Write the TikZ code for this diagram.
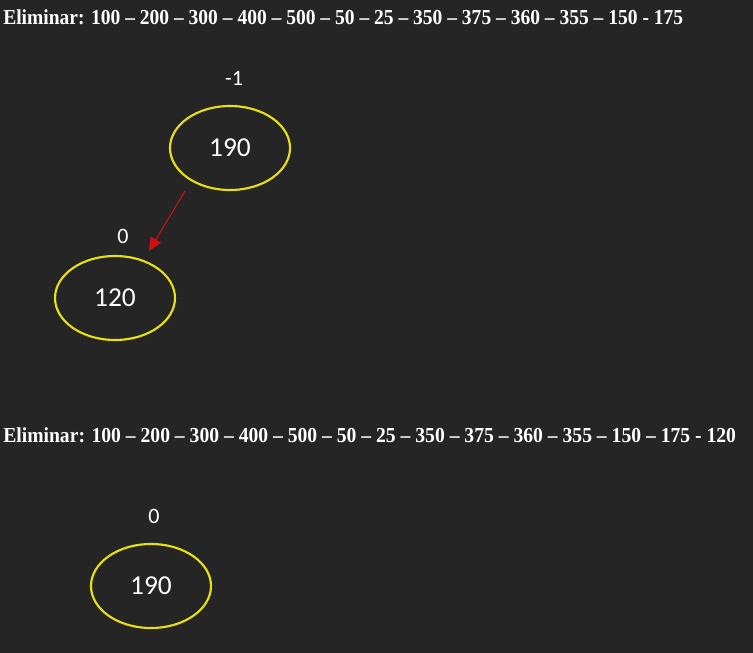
\documentclass[tikz,border=0pt]{standalone}
\usepackage{fontspec}
\setmainfont{Liberation Serif}
\newfontfamily\numfont{Carlito}
\usetikzlibrary{shapes.geometric,arrows.meta}
\definecolor{bg}{HTML}{252525}
\definecolor{ringyellow}{HTML}{E8E010}
\definecolor{arrowred}{HTML}{D01010}
\begin{document}
\begin{tikzpicture}[x=0.75pt,y=-0.75pt,
  keynode/.style={ellipse,draw=ringyellow,line width=1.6pt,minimum width=120*0.75pt,minimum height=84*0.75pt,inner sep=0pt,text=white,font=\numfont\fontsize{20.5}{22}\selectfont},
  balance/.style={text=white,font=\numfont\fontsize{16.5}{18}\selectfont,inner sep=0pt},
  title/.style={text=white,anchor=west,inner sep=0pt,font=\bfseries\fontsize{16}{18}\selectfont},
  link/.style={draw=arrowred,line width=0.8pt,-{Triangle[length=10pt,width=9pt]}}]
\fill[bg] (0,0) rectangle (753,653);
\useasboundingbox (0,0) rectangle (753,653);
\node[title] (t1) at (3,17) {\scalebox{0.915}[1]{Eliminar: 100 – 200 – 300 – 400 – 500 – 50 – 25 – 350 – 375 – 360 – 355 – 150 - 175}};
\node[title] (t2) at (3,435) {\scalebox{0.92}[1]{Eliminar: 100 – 200 – 300 – 400 – 500 – 50 – 25 – 350 – 375 – 360 – 355 – 150 – 175 - 120}};
\node[keynode] (a) at (230,148) {190};
\node[keynode] (b) at (115,298) {120};
\node[keynode] (c) at (151,586) {190};
\node[balance] (la) at (234,78) {-1};
\node[balance] (lb) at (123,236) {0};
\node[balance] (lc) at (154,516) {0};
\coordinate (s) at (185,191);
\coordinate (e) at (149,251);
\draw[link] (s) -- (e);
\end{tikzpicture}
\end{document}
